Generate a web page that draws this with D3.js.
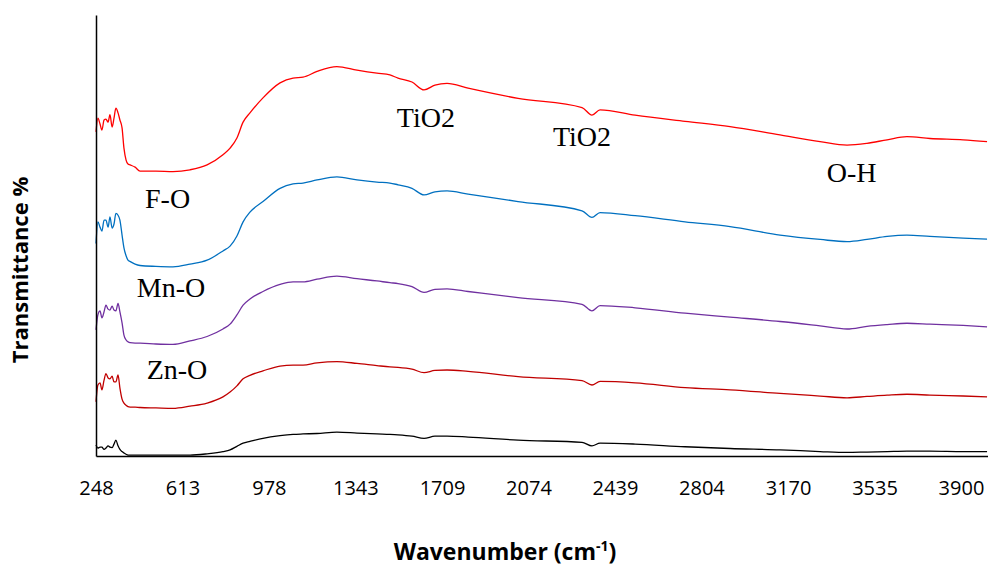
<!DOCTYPE html>
<html>
<head>
<meta charset="utf-8">
<script src="https://cdn.jsdelivr.net/npm/d3@7"></script>
<style>
  body { margin: 0; background: #fff; }
  svg { display: block; }
</style>
</head>
<body>
<script>
// FTIR spectra, values
var wavenumber = [248, 256, 265, 273, 282, 290, 299, 307, 316, 324, 332, 341, 349, 358, 366, 375, 383, 392, 413, 434,
  501, 573, 645, 717, 784, 814, 843, 869, 898, 953, 1025, 1080, 1122, 1181, 1265, 1350, 1434, 1489, 1523, 1582,
  1633, 1679, 1730, 1819, 2030, 2300, 2342, 2376, 2524, 2735, 2925, 3136, 3305, 3419, 3503, 3588, 3672, 3769, 3909, 4010];

var trRed = [73.5, 76.6, 75.3, 73.9, 76.2, 76.4, 75.7, 77.4, 74.6, 76.6, 78.9, 77.8, 76.2, 74.4, 69.8, 67.1, 66.2, 66.0, 65.5, 64.6,
  64.6, 64.5, 64.9, 66.0, 68.3, 69.8, 72.1, 75.7, 77.8, 81.2, 84.6, 85.7, 85.9, 87.2, 88.3, 87.5, 86.8, 86.4, 85.7, 84.8,
  83.0, 84.1, 84.5, 83.4, 81.1, 79.0, 77.3, 78.5, 77.3, 75.9, 74.7, 72.8, 71.3, 70.5, 70.9, 71.7, 72.4, 72.0, 71.7, 71.3];

var trBlue = [48.2, 53.1, 51.9, 51.0, 53.5, 53.5, 51.9, 54.2, 51.7, 52.6, 55.0, 54.6, 53.5, 50.1, 47.2, 45.4, 44.4, 44.1, 43.5, 43.2,
  43.0, 42.9, 43.5, 44.4, 46.5, 47.6, 49.9, 53.1, 55.3, 57.7, 60.7, 61.7, 61.9, 62.6, 63.3, 62.6, 62.1, 61.9, 61.5, 60.7,
  59.2, 59.9, 60.1, 59.4, 57.7, 55.6, 54.1, 55.2, 54.5, 53.1, 52.0, 50.1, 49.1, 48.6, 49.1, 49.8, 50.1, 49.8, 49.4, 49.2];

var trPurple = [28.6, 32.0, 32.9, 31.3, 32.7, 34.2, 33.3, 33.1, 34.0, 33.1, 32.9, 34.6, 32.7, 30.2, 27.4, 26.3, 25.9, 25.7, 25.6, 25.6,
  25.4, 25.3, 26.1, 27.1, 28.8, 29.9, 32.0, 34.2, 35.6, 37.3, 38.9, 39.5, 39.5, 40.1, 40.8, 40.2, 39.7, 39.3, 39.1, 38.4,
  37.1, 37.8, 37.9, 37.3, 35.9, 34.4, 32.9, 34.1, 33.6, 32.4, 31.5, 30.5, 29.5, 28.8, 29.4, 29.8, 30.1, 29.9, 29.6, 29.3];

var trDarkRed = [12.3, 16.1, 16.6, 15.0, 17.2, 18.7, 17.7, 17.5, 18.1, 16.8, 16.8, 18.4, 15.4, 12.9, 12.0, 11.5, 11.2, 11.1, 11.1, 11.0,
  10.9, 10.8, 11.3, 12.0, 13.4, 14.5, 15.9, 17.5, 18.3, 19.3, 20.4, 20.6, 20.6, 21.1, 21.4, 21.0, 20.5, 20.2, 20.1, 19.7,
  18.9, 19.4, 19.5, 19.2, 18.0, 17.1, 16.1, 16.9, 16.6, 15.5, 15.0, 14.2, 13.6, 13.2, 13.5, 13.8, 14.0, 13.8, 13.6, 13.4];

var trBlack = [2.5, 1.8, 2.0, 2.0, 1.5, 1.8, 2.3, 2.0, 1.9, 2.7, 3.6, 2.3, 1.5, 1.0, 0.7, 0.4, 0.2, 0.2, 0.2, 0.2,
  0.2, 0.2, 0.2, 0.5, 1.0, 1.4, 2.2, 2.9, 3.3, 4.0, 4.6, 4.9, 5.0, 5.1, 5.4, 5.2, 5.0, 4.9, 4.8, 4.5,
  4.0, 4.5, 4.5, 4.3, 3.6, 3.1, 2.3, 2.9, 2.7, 2.1, 1.7, 1.4, 1.0, 0.8, 0.9, 1.0, 1.1, 1.1, 1.0, 1.0];

// category labels on the x axis
var xTicks = [248, 613, 978, 1343, 1709, 2074, 2439, 2804, 3170, 3535, 3900];

// peak annotations (wavenumber, transmittance of the text baseline)
var labelText = ["F-O", "Mn-O", "Zn-O", "TiO2", "TiO2", "O-H"];
var labelWave = [455, 420, 462, 1518, 2177, 3333];
var labelTr = [56.2, 36.1, 17.5, 74.7, 70.4, 62.2];

// size and margins
var margin = { top: 15, right: 0, bottom: 111, left: 96 },
  width = 988 - margin.left - margin.right,
  height = 567 - margin.top - margin.bottom;

var root = d3.select("body")
  .append("svg")
  .attr("width", width + margin.left + margin.right)
  .attr("height", height + margin.top + margin.bottom);

var svg = root.append("g")
  .attr("transform", "translate(" + margin.left + "," + margin.top + ")");

var x = d3.scaleLinear()
  .domain([248, 4014])
  .range([0, width]);

var y = d3.scaleLinear()
  .domain([0, 100])
  .range([height, 0]);

// lines, drawn bottom to top
var series = [
  { values: trBlack, color: "#000000" },
  { values: trDarkRed, color: "#C00000" },
  { values: trPurple, color: "#7030A0" },
  { values: trBlue, color: "#0070C0" },
  { values: trRed, color: "#FF0000" }
];

var line = d3.line()
  .x(function (d) { return x(d[0]); })
  .y(function (d) { return y(d[1]); })
  .curve(d3.curveMonotoneX);

series.forEach(function (s) {
  var pts = wavenumber.map(function (w, i) { return [w, s.values[i]]; });
  svg.append("path")
    .datum(pts)
    .attr("fill", "none")
    .attr("stroke", s.color)
    .attr("stroke-width", 1.3)
    .attr("stroke-linejoin", "round")
    .attr("d", line);
});

// x axis
var xAxis = svg.append("g")
  .attr("transform", "translate(0," + height + ")")
  .call(d3.axisBottom(x).tickValues(xTicks).tickFormat(d3.format("d")).tickSize(0).tickPadding(25));
xAxis.select(".domain").attr("stroke", "#000").attr("stroke-width", 1.5);
xAxis.selectAll("text")
  .style("font-family", "'Open Sans', sans-serif")
  .style("font-size", "20px")
  .attr("fill", "#000");

// y axis, only the line
var yAxis = svg.append("g")
  .call(d3.axisLeft(y).tickValues([]).tickSizeOuter(0));
yAxis.select(".domain").attr("stroke", "#000").attr("stroke-width", 1.5);

// annotations
labelText.forEach(function (t, i) {
  svg.append("text")
    .attr("x", x(labelWave[i]))
    .attr("y", y(labelTr[i]))
    .style("font-family", "'Liberation Serif', 'Times New Roman', serif")
    .style("font-size", "28px")
    .attr("fill", "#000")
    .text(t);
});

// axis titles
root.append("text")
  .attr("transform", "translate(28,270) rotate(-90)")
  .attr("text-anchor", "middle")
  .style("font-family", "'Open Sans', sans-serif")
  .style("font-size", "22px")
  .style("font-weight", "bold")
  .text("Transmittance %");

var xTitle = root.append("text")
  .attr("x", 505)
  .attr("y", 560)
  .attr("text-anchor", "middle")
  .style("font-family", "'Open Sans', sans-serif")
  .style("font-size", "23px")
  .style("font-weight", "bold")
  .text("Wavenumber (cm");
xTitle.append("tspan")
  .attr("dy", -9)
  .style("font-size", "14px")
  .text("-1");
xTitle.append("tspan")
  .attr("dy", 9)
  .text(")");
</script>
</body>
</html>
